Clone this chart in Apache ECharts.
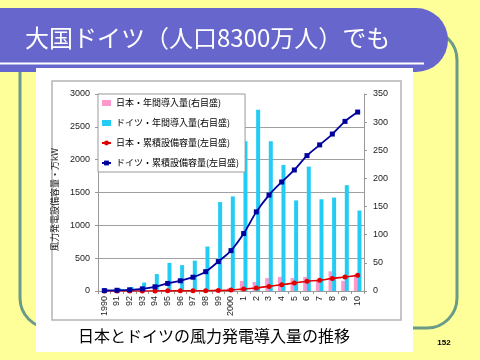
<!DOCTYPE html>
<html>
<head>
<meta charset="utf-8">
<script src="https://cdn.jsdelivr.net/npm/echarts@6/dist/echarts.min.js"></script>
<style>html,body{margin:0;padding:0;background:#FFFF99;}#c{width:480px;height:360px;}</style>
</head>
<body>
<div id="c"></div>
<script>
var categories = ['1990','91','92','93','94','95','96','97','98','99','2000','1','2','3','4','5','6','7','8','9','10'];
var japanAnnual = [0.1,0.1,0.1,0.2,0.1,0.4,0.3,1.2,1.2,3.5,5,18,16,23,25,23,25,19,35,18,29];
var germanyAnnual = [4,5,7,15,30,50,46,54,79,158,168,266,322,266,224,161,221,163,166,188,143];
var japanCum = [1,1,1,1,1,2,2,3,4,8,14,30,46,70,96,122,148,163,192,213,238];
var germanyCum = [6,11,18,33,64,115,156,210,294,448,615,875,1205,1461,1660,1843,2062,2225,2390,2583,2725];
var leftTicks = {min:0, max:3000, interval:500};
var rightTicks = {min:0, max:350, interval:50};
var names = ['日本・年間導入量(右目盛)','ドイツ・年間導入量(右目盛)','日本・累積設備容量(左目盛)','ドイツ・累積設備容量(左目盛)'];
var titleText = '大国ドイツ（人口8300万人）でも';
var captionText = '日本とドイツの風力発電導入量の推移';
var yName = '風力発電設備容量・万kW';

var JP = '"Noto Sans CJK JP", sans-serif';
var LAT = '"Liberation Sans", Arial, sans-serif';
var plain = function (v) { return String(v); };
var chart = echarts.init(document.getElementById('c'), null, {renderer:'canvas'});
chart.setOption({
  backgroundColor: '#FFFF99',
  animation: false,
  graphic: { elements: [
    {type:'rect', z:-10, shape:{x:20, y:30, width:437, height:298, r:30}, style:{fill:'none', stroke:'#6a9a8a', lineWidth:3}},
    {type:'rect', z:-9, shape:{x:-10, y:8, width:458, height:64, r:[0,32,32,0]}, style:{fill:'#6666CC'}},
    {type:'rect', z:-8, shape:{x:0, y:62.5, width:424, height:2}, style:{fill:'#FFFFFF'}},
    {type:'rect', z:-7, shape:{x:36, y:68, width:377, height:284}, style:{fill:'#FFFFFF'}},
    {type:'rect', z:-6, shape:{x:52, y:81, width:349, height:239}, style:{fill:'none', stroke:'#b4b4b4', lineWidth:1.5}},
    {type:'text', z:10, x:25, y:38, style:{text:titleText, fill:'#FFFFFF', fontSize:24, fontFamily:JP, align:'left', verticalAlign:'middle'}},
    {type:'text', z:10, x:214, y:336, style:{text:captionText, fill:'#000000', fontSize:16, fontFamily:JP, align:'center', verticalAlign:'middle'}},
    {type:'text', z:10, x:444, y:343, style:{text:'152', fill:'#000000', fontSize:8, fontWeight:'bold', fontFamily:LAT, align:'center', verticalAlign:'middle'}}
  ]},
  legend: {
    orient:'vertical', left:98, top:94, padding:[3,6,3,3], itemGap:8, itemWidth:9, itemHeight:6,
    backgroundColor:'#FFFFFF', borderColor:'#999999', borderWidth:1, borderRadius:0,
    textStyle:{fontSize:9, fontFamily:JP, color:'#000', lineHeight:12},
    data:[{name:names[0], icon:'rect'},{name:names[1], icon:'rect'},{name:names[2]},{name:names[3]}]
  },
  grid: {left:98, right:116, top:94, bottom:69, containLabel:false},
  xAxis: {
    type:'category', data:categories, boundaryGap:true,
    axisLine:{show:true, lineStyle:{color:'#999', width:1}},
    axisTick:{show:true, alignWithLabel:false, length:3, lineStyle:{color:'#999'}},
    axisLabel:{interval:0, rotate:90, margin:5, fontSize:9, fontFamily:LAT, color:'#222'},
    splitLine:{show:false}
  },
  yAxis: [
    {type:'value', min:leftTicks.min, max:leftTicks.max, interval:leftTicks.interval, position:'left',
     name:yName, nameLocation:'middle', nameGap:32, nameRotate:90,
     nameTextStyle:{fontSize:9, fontFamily:JP, color:'#222', padding:[0,14,0,0]},
     axisLine:{show:true, lineStyle:{color:'#999'}},
     axisTick:{show:true, length:3, inside:false, lineStyle:{color:'#999'}},
     axisLabel:{margin:8, fontSize:9, fontFamily:LAT, color:'#222', formatter:plain},
     splitLine:{show:true, showMaxLine:false, lineStyle:{color:'#a0a0a0', width:1}}},
    {type:'value', min:rightTicks.min, max:rightTicks.max, interval:rightTicks.interval, position:'right',
     axisLine:{show:true, lineStyle:{color:'#999'}},
     axisTick:{show:true, length:3, inside:false, lineStyle:{color:'#999'}},
     axisLabel:{margin:9, fontSize:9, fontFamily:LAT, color:'#222', formatter:plain},
     splitLine:{show:false}}
  ],
  series: [
    {name:names[0], type:'bar', yAxisIndex:1, data:japanAnnual, barWidth:4, barGap:'-10%', itemStyle:{color:'#FF99CC'}},
    {name:names[1], type:'bar', yAxisIndex:1, data:germanyAnnual, barWidth:4, barGap:'-10%', itemStyle:{color:'#22CCF5'}},
    {name:names[2], type:'line', yAxisIndex:0, data:japanCum, smooth:0.2, symbol:'circle', symbolSize:5,
     lineStyle:{color:'#E00000', width:1.6}, itemStyle:{color:'#E00000'}, z:4},
    {name:names[3], type:'line', yAxisIndex:0, data:germanyCum, smooth:0.3, symbol:'rect', symbolSize:5,
     lineStyle:{color:'#0000A0', width:1.8}, itemStyle:{color:'#0000A0'}, z:5}
  ]
});
</script>
</body>
</html>
